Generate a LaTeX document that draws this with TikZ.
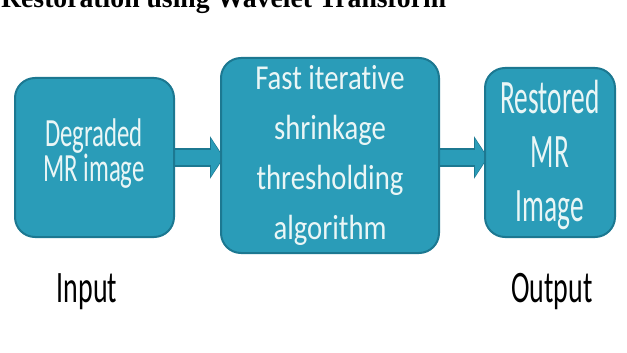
\documentclass[tikz,border=0pt]{standalone}
\usepackage{fontspec}
\usetikzlibrary{arrows.meta,backgrounds}
\newfontfamily\fontA[FakeStretch=0.62,Ligatures=NoCommon]{Carlito}
\newfontfamily\fontB[FakeStretch=0.82,Ligatures=NoCommon]{Carlito}
\newfontfamily\fontC[FakeStretch=0.57,Ligatures=NoCommon]{Carlito}
\newfontfamily\fontL[FakeStretch=0.62,Ligatures=NoCommon]{Carlito}
\newfontfamily\titlefont{Liberation Serif}
\definecolor{boxfill}{HTML}{2A9CB8}
\definecolor{boxedge}{HTML}{1C7891}
\definecolor{boxtext}{HTML}{EAF6F6}
\tikzset{
  blockbox/.style={draw=boxedge, line width=2pt, fill=boxfill, rounded corners=20pt, inner sep=0pt},
  boxlabel/.style={text=boxtext, align=center, inner sep=0pt},
  plainlabel/.style={text=black, inner sep=0pt, font=\fontL\fontsize{45}{50}\selectfont},
  connout/.style={draw=boxedge, line width=19pt, -{Triangle[width=42pt,length=14pt]}, fill=boxedge},
  connin/.style={draw=boxfill, line width=15pt, -{Triangle[width=37pt,length=12pt]}, fill=boxfill},
}
\begin{document}
\begin{tikzpicture}[x=1pt,y=-1pt]
\useasboundingbox (0,0) rectangle (627,353);
\node[anchor=base west, inner sep=0pt, font=\titlefont\bfseries\fontsize{27.7}{30}\selectfont] (title) at (1,8) {Restoration using Wavelet Transform};
\node[blockbox, minimum width=159pt, minimum height=159pt] (b1) at (94.5,157.5) {};
\node[blockbox, minimum width=218pt, minimum height=195pt] (b2) at (330,155.5) {};
\node[blockbox, minimum width=130pt, minimum height=169pt] (b3) at (550,152.5) {};
\node[boxlabel, font=\fontA\fontsize{40}{35}\selectfont] (t1) at (94,154) {Degraded\\MR image};
\node[boxlabel, font=\fontB\fontsize{35}{50}\selectfont] (t2) at (330,155) {Fast iterative\\shrinkage\\thresholding\\algorithm};
\node[boxlabel, font=\fontC\fontsize{48}{54}\selectfont] (t3) at (550,155) {Restored\\MR\\Image};
\node[plainlabel, anchor=base] (in) at (87,302) {Input};
\node[plainlabel, anchor=base] (out) at (552,302) {Output};
\begin{scope}[on background layer]
\draw[connout] (b1.east) -- ([xshift=4pt]b1.east -| b2.west);
\draw[connin] ([xshift=-2pt]b1.east) -- ([xshift=3pt]b1.east -| b2.west);
\draw[connout] (b1.east -| b2.east) -- ([xshift=4pt]b1.east -| b3.west);
\draw[connin] ([xshift=-2pt]b1.east -| b2.east) -- ([xshift=3pt]b1.east -| b3.west);
\end{scope}
\end{tikzpicture}
\end{document}
